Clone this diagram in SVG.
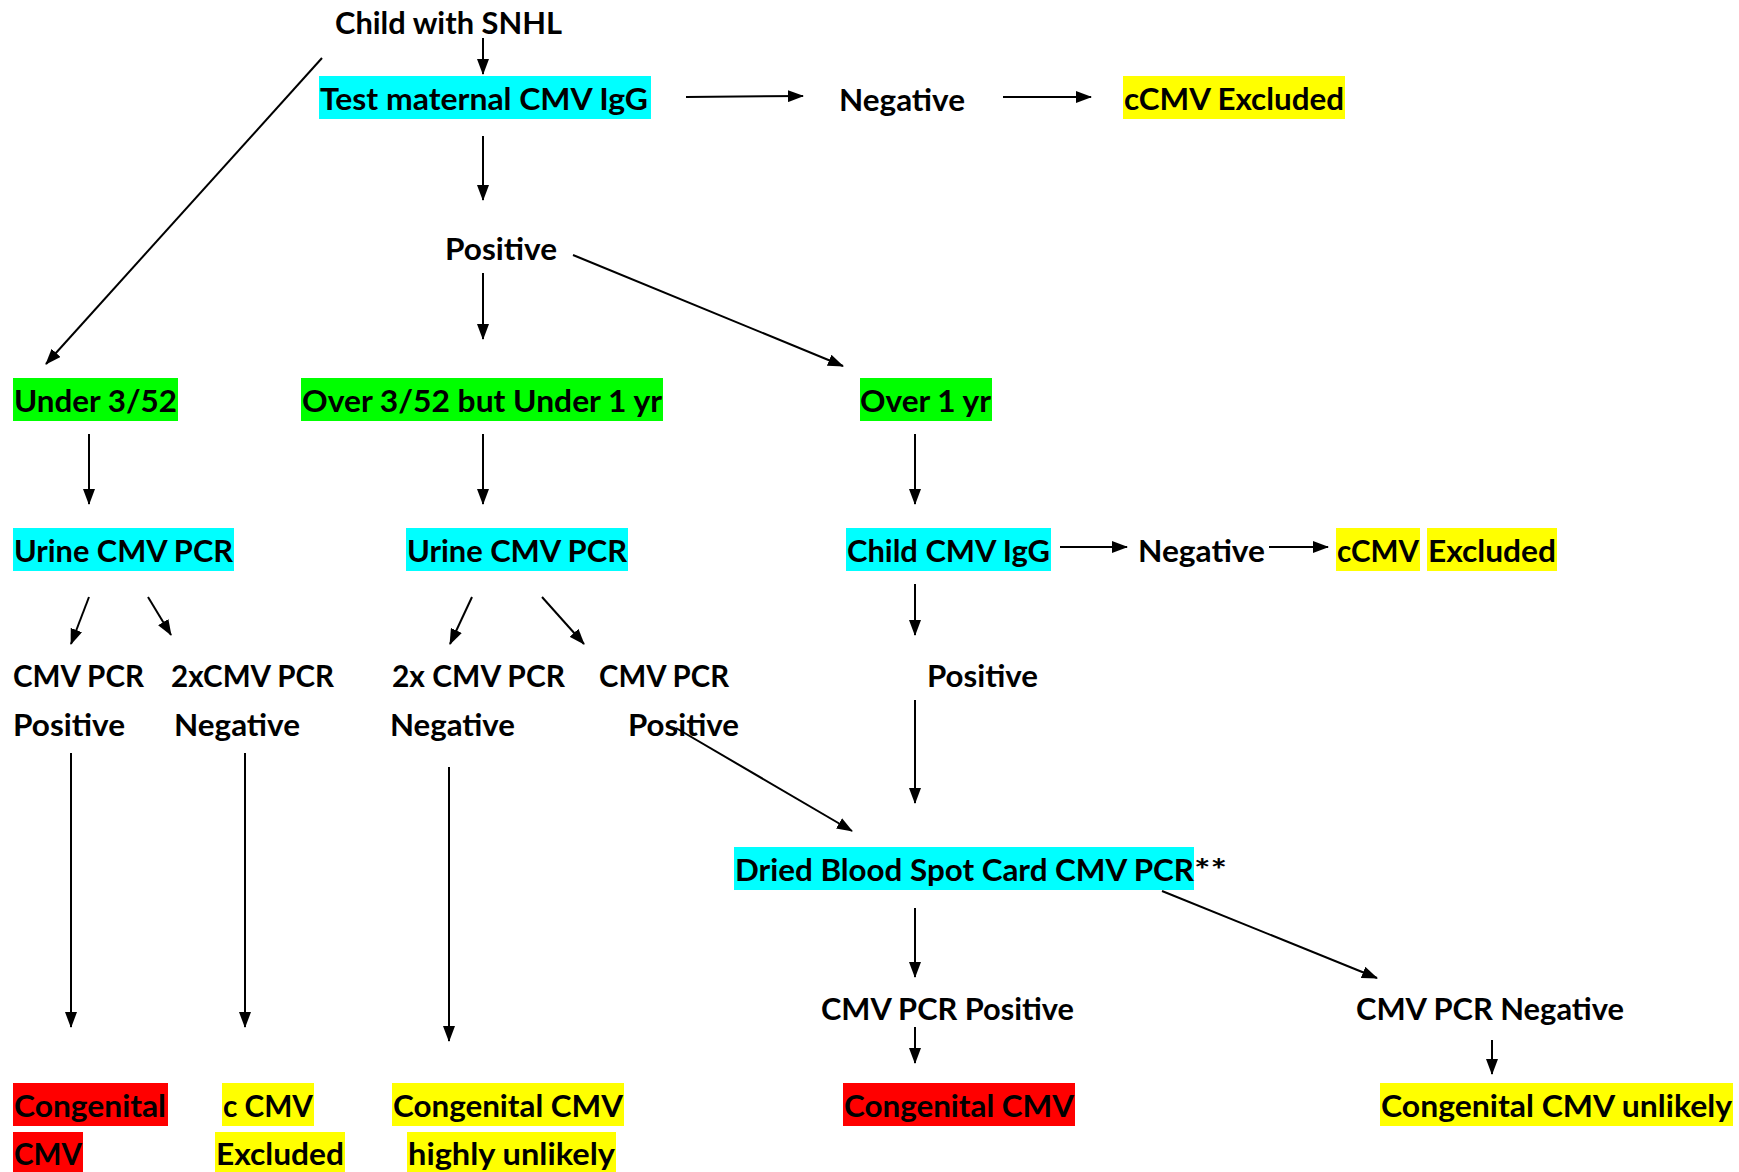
<svg xmlns="http://www.w3.org/2000/svg" width="1739" height="1172" viewBox="0 0 1739 1172">
<style>
text{font-family:Lato,"Liberation Sans",sans-serif;font-weight:bold;font-size:30px;fill:#000}
.cy{fill:#00FFFF}.gr{fill:#00FF00}.ye{fill:#FFFF00}.rd{fill:#FF0000}
.c line{stroke:#000;stroke-width:2;fill:none;marker-end:url(#ah)}
</style>
<defs>
<marker id="ah" markerUnits="userSpaceOnUse" markerWidth="16" markerHeight="12" refX="15" refY="6" orient="auto">
<path d="M0,0 L16,6 L0,12 z" fill="#000"/>
</marker>
</defs>
<rect width="1739" height="1172" fill="#fff"/>
<g id="child-snhl"><text x="335" y="34" textLength="227" lengthAdjust="spacingAndGlyphs">Child with SNHL</text></g>
<g id="test-maternal"><rect class="cy" x="319" y="76" width="332" height="43"/><text x="320" y="110" textLength="328" lengthAdjust="spacingAndGlyphs">Test maternal CMV IgG</text></g>
<g id="neg1"><text x="839" y="111" textLength="126" lengthAdjust="spacingAndGlyphs">Negative</text></g>
<g id="excl1"><rect class="ye" x="1123" y="76" width="222" height="43"/><text x="1124" y="110" textLength="220" lengthAdjust="spacingAndGlyphs">cCMV Excluded</text></g>
<g id="pos1"><text x="445" y="260" textLength="112" lengthAdjust="spacingAndGlyphs">Positive</text></g>
<g id="under352"><rect class="gr" x="13" y="378" width="165" height="43"/><text x="14" y="412" textLength="163" lengthAdjust="spacingAndGlyphs">Under 3/52</text></g>
<g id="over352"><rect class="gr" x="301" y="378" width="362" height="43"/><text x="302" y="412" textLength="360" lengthAdjust="spacingAndGlyphs">Over 3/52 but Under 1 yr</text></g>
<g id="over1yr"><rect class="gr" x="860" y="378" width="132" height="43"/><text x="860" y="412" textLength="131" lengthAdjust="spacingAndGlyphs">Over 1 yr</text></g>
<g id="urine1"><rect class="cy" x="13" y="528" width="221" height="43"/><text x="14" y="562" textLength="219" lengthAdjust="spacingAndGlyphs">Urine CMV PCR</text></g>
<g id="urine2"><rect class="cy" x="406" y="528" width="222" height="43"/><text x="407" y="562" textLength="220" lengthAdjust="spacingAndGlyphs">Urine CMV PCR</text></g>
<g id="childigg"><rect class="cy" x="846" y="528" width="205" height="43"/><text x="847" y="562" textLength="203" lengthAdjust="spacingAndGlyphs">Child CMV IgG</text></g>
<g id="neg2"><text x="1138" y="562" textLength="127" lengthAdjust="spacingAndGlyphs">Negative</text></g>
<g id="excl2"><rect class="ye" x="1336" y="528" width="84" height="43"/><rect class="ye" x="1427" y="528" width="130" height="43"/><text x="1337" y="562" textLength="82" lengthAdjust="spacingAndGlyphs">cCMV</text><text x="1428" y="562" textLength="128" lengthAdjust="spacingAndGlyphs">Excluded</text></g>
<g id="u1pos"><text x="13" y="687" textLength="131" lengthAdjust="spacingAndGlyphs">CMV PCR</text><text x="13" y="736" textLength="112" lengthAdjust="spacingAndGlyphs">Positive</text></g>
<g id="u1neg"><text x="171" y="687" textLength="163" lengthAdjust="spacingAndGlyphs">2xCMV PCR</text><text x="174" y="736" textLength="126" lengthAdjust="spacingAndGlyphs">Negative</text></g>
<g id="u2neg"><text x="392" y="687" textLength="173" lengthAdjust="spacingAndGlyphs">2x CMV PCR</text><text x="390" y="736" textLength="125" lengthAdjust="spacingAndGlyphs">Negative</text></g>
<g id="u2pos"><text x="599" y="687" textLength="130" lengthAdjust="spacingAndGlyphs">CMV PCR</text><text x="628" y="736" textLength="111" lengthAdjust="spacingAndGlyphs">Positive</text></g>
<g id="pos2"><text x="927" y="687" textLength="111" lengthAdjust="spacingAndGlyphs">Positive</text></g>
<g id="dbs"><rect class="cy" x="734" y="847" width="460" height="43"/><text x="735" y="881" textLength="459" lengthAdjust="spacingAndGlyphs">Dried Blood Spot Card CMV PCR</text><text x="1194" y="881" textLength="33" lengthAdjust="spacingAndGlyphs">**</text></g>
<g id="dbspos"><text x="821" y="1020" textLength="253" lengthAdjust="spacingAndGlyphs">CMV PCR Positive</text></g>
<g id="dbsneg"><text x="1356" y="1020" textLength="268" lengthAdjust="spacingAndGlyphs">CMV PCR Negative</text></g>
<g id="res1"><rect class="rd" x="13" y="1083" width="155" height="43"/><rect class="rd" x="13" y="1132" width="70" height="40"/><text x="14" y="1117" textLength="152" lengthAdjust="spacingAndGlyphs">Congenital</text><text x="14" y="1165" textLength="68" lengthAdjust="spacingAndGlyphs">CMV</text></g>
<g id="res2"><rect class="ye" x="222" y="1083" width="92" height="43"/><rect class="ye" x="215" y="1132" width="130" height="40"/><text x="223" y="1117" textLength="90" lengthAdjust="spacingAndGlyphs">c CMV</text><text x="216" y="1165" textLength="128" lengthAdjust="spacingAndGlyphs">Excluded</text></g>
<g id="res3"><rect class="ye" x="392" y="1083" width="232" height="43"/><rect class="ye" x="407" y="1132" width="209" height="40"/><text x="393" y="1117" textLength="230" lengthAdjust="spacingAndGlyphs">Congenital CMV</text><text x="408" y="1165" textLength="207" lengthAdjust="spacingAndGlyphs">highly unlikely</text></g>
<g id="res4"><rect class="rd" x="843" y="1083" width="232" height="43"/><text x="844" y="1117" textLength="230" lengthAdjust="spacingAndGlyphs">Congenital CMV</text></g>
<g id="res5"><rect class="ye" x="1380" y="1083" width="353" height="43"/><text x="1381" y="1117" textLength="351" lengthAdjust="spacingAndGlyphs">Congenital CMV unlikely</text></g>
<g id="connectors" class="c">
<line x1="483" y1="38" x2="483" y2="74"/>
<line x1="483" y1="136" x2="483" y2="200"/>
<line x1="686" y1="97" x2="803" y2="96"/>
<line x1="1003" y1="97" x2="1091" y2="97"/>
<line x1="322" y1="58" x2="46" y2="364"/>
<line x1="573" y1="255" x2="843" y2="366"/>
<line x1="483" y1="273" x2="483" y2="339"/>
<line x1="89" y1="434" x2="89" y2="504"/>
<line x1="483" y1="434" x2="483" y2="504"/>
<line x1="915" y1="434" x2="915" y2="504"/>
<line x1="89" y1="597" x2="71" y2="644"/>
<line x1="148" y1="597" x2="171" y2="635"/>
<line x1="472" y1="597" x2="450" y2="644"/>
<line x1="542" y1="597" x2="584" y2="644"/>
<line x1="1060" y1="547" x2="1127" y2="547"/>
<line x1="1269" y1="547" x2="1328" y2="547"/>
<line x1="915" y1="584" x2="915" y2="635"/>
<line x1="71" y1="753" x2="71" y2="1027"/>
<line x1="245" y1="753" x2="245" y2="1027"/>
<line x1="449" y1="767" x2="449" y2="1041"/>
<line x1="676" y1="728" x2="852" y2="831"/>
<line x1="915" y1="700" x2="915" y2="803"/>
<line x1="915" y1="908" x2="915" y2="977"/>
<line x1="1162" y1="891" x2="1377" y2="978"/>
<line x1="915" y1="1027" x2="915" y2="1063"/>
<line x1="1492" y1="1040" x2="1492" y2="1074"/>
</g>
</svg>
